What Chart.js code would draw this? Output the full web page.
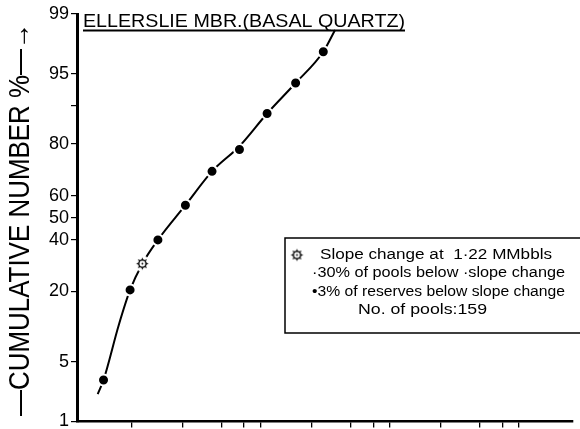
<!DOCTYPE html>
<html>
<head>
<meta charset="utf-8">
<script src="https://cdn.jsdelivr.net/npm/chart.js@4.4.0/dist/chart.umd.min.js"></script>
<style>
  body { margin: 0; background: #fff; }
  #wrap { width: 580px; height: 429px; }
</style>
</head>
<body>
<div id="wrap"><canvas id="chart"></canvas></div>
<script>
// pool size (MMbbls) against cumulative number of pools (%)
const poolSizes = [0.61, 0.98, 1.61, 2.63, 4.23, 6.9, 11.3, 18.8, 30.8];
const cumulativePct = [3.2, 20.5, 40, 55.7, 70.2, 78.2, 88.3, 93.8, 97.1];
const slopeChangeSize = [1.22];
const slopeChangePct = [30];
// hand-drawn fitted curve
const curveSizes = [0.55, 0.61, 0.8, 0.98, 1.22, 1.61, 2.63, 4.23, 6.9, 11.3, 18.8, 30.8, 38];
const curvePct = [2.2, 3.2, 11, 20.5, 30, 40, 55.7, 70.2, 79.3, 88.3, 93.8, 97.1, 98.4];
const yTicks = [1, 5, 20, 40, 50, 60, 80, 90, 95, 99];
const yTickLabels = ['1', '5', '20', '40', '50', '60', '80', '', '95', '99'];
const xTicks = [1, 2.5, 5, 7.5, 10, 25, 50, 75, 100, 250, 500, 750, 1000];
const chartTitle = 'ELLERSLIE MBR.(BASAL QUARTZ)';
const yTitle = '\u2014CUMULATIVE NUMBER %\u2014\u2192';
const noteLines = [
  'Slope change at  1\u00b722 MMbbls',
  '\u00b730% of pools below \u00b7slope change',
  '\u20223% of reserves below slope change',
  'No. of pools:159'
];

// inverse normal cdf (Acklam), input in percent
function probit(pct) {
  const p = pct / 100;
  const a = [-39.69683028665376, 220.9460984245205, -275.9285104469687, 138.3577518672690, -30.66479806614716, 2.506628277459239];
  const b = [-54.47609879822406, 161.5858368580409, -155.6989798598866, 66.80131188771972, -13.28068155288572];
  const c = [-0.007784894002430293, -0.3223964580411365, -2.400758277161838, -2.549732539343734, 4.374664141464968, 2.938163982698783];
  const d = [0.007784695709041462, 0.3224671290700398, 2.445134137142996, 3.754408661907416];
  const lo = 0.02425;
  let q, r;
  if (p < lo) {
    q = Math.sqrt(-2 * Math.log(p));
    return (((((c[0]*q+c[1])*q+c[2])*q+c[3])*q+c[4])*q+c[5]) / ((((d[0]*q+d[1])*q+d[2])*q+d[3])*q+1);
  }
  if (p > 1 - lo) {
    q = Math.sqrt(-2 * Math.log(1 - p));
    return -(((((c[0]*q+c[1])*q+c[2])*q+c[3])*q+c[4])*q+c[5]) / ((((d[0]*q+d[1])*q+d[2])*q+d[3])*q+1);
  }
  q = p - 0.5; r = q * q;
  return (((((a[0]*r+a[1])*r+a[2])*r+a[3])*r+a[4])*r+a[5])*q / (((((b[0]*r+b[1])*r+b[2])*r+b[3])*r+b[4])*r+1);
}

function normCdf(z) {
  const t = 1 / (1 + 0.2316419 * Math.abs(z));
  const y = 0.3989423 * Math.exp(-z * z / 2) * t * (0.3193815 + t * (-0.3565638 + t * (1.781478 + t * (-1.821256 + t * 1.330274))));
  return z > 0 ? 1 - y : y;
}

// probability paper axis
class ProbabilityScale extends Chart.LinearScale {
  determineDataLimits() {
    this.min = this.options.min;
    this.max = this.options.max;
  }
  buildTicks() {
    return yTicks.map(v => ({ value: v }));
  }
  configure() {
    super.configure();
    this._zStart = probit(this.min);
    this._zRange = probit(this.max) - this._zStart;
  }
  getPixelForValue(v) {
    return this.getPixelForDecimal((probit(v) - this._zStart) / this._zRange);
  }
  getValueForPixel(px) {
    return 100 * normCdf(this._zStart + this.getDecimalForPixel(px) * this._zRange);
  }
}
ProbabilityScale.id = 'probability';
ProbabilityScale.defaults = Chart.LinearScale.defaults;
Chart.register(ProbabilityScale);

function makeStar() {
  const c = document.createElement('canvas');
  c.width = 17; c.height = 17;
  const g = c.getContext('2d');
  const cx = 8.5, cy = 8.5;
  g.fillStyle = '#fff';
  g.beginPath(); g.arc(cx, cy, 8, 0, Math.PI * 2); g.fill();
  g.fillStyle = '#000';
  for (let i = 0; i < 8; i++) {
    const a = i * Math.PI / 4;
    g.beginPath();
    g.moveTo(cx + Math.cos(a - 0.32) * 3.6, cy + Math.sin(a - 0.32) * 3.6);
    g.lineTo(cx + Math.cos(a) * 6.3, cy + Math.sin(a) * 6.3);
    g.lineTo(cx + Math.cos(a + 0.32) * 3.6, cy + Math.sin(a + 0.32) * 3.6);
    g.closePath();
    g.fill();
  }
  g.beginPath(); g.arc(cx, cy, 3.6, 0, Math.PI * 2);
  g.fillStyle = '#fff'; g.fill();
  g.lineWidth = 1.3; g.strokeStyle = '#000'; g.stroke();
  g.beginPath(); g.arc(cx, cy, 0.9, 0, Math.PI * 2);
  g.fillStyle = '#000'; g.fill();
  return c;
}
const starIcon = makeStar();

function fitText(ctx, text, x, y, width, font) {
  ctx.save();
  ctx.font = font;
  const w = ctx.measureText(text).width;
  ctx.translate(x, y);
  ctx.scale(width / w, 1);
  ctx.fillText(text, 0, 0);
  ctx.restore();
}

const notesPlugin = {
  id: 'notes',
  afterDraw(chart) {
    const ctx = chart.ctx;
    ctx.save();
    ctx.fillStyle = '#000';
    ctx.strokeStyle = '#000';
    ctx.textAlign = 'left';

    // title with underline
    ctx.textBaseline = 'alphabetic';
    fitText(ctx, chartTitle, 83, 27, 322, '19px "Liberation Sans"');
    ctx.lineWidth = 2;
    ctx.beginPath(); ctx.moveTo(83, 30.5); ctx.lineTo(405, 30.5); ctx.stroke();

    // vertical axis title
    ctx.save();
    ctx.translate(21, 416);
    ctx.rotate(-Math.PI / 2);
    ctx.textBaseline = 'middle';
    fitText(ctx, yTitle, 0, 0, 393, '29px "Liberation Sans"');
    ctx.restore();

    // note box
    ctx.lineWidth = 1.5;
    ctx.beginPath();
    ctx.moveTo(582, 238); ctx.lineTo(285, 238); ctx.lineTo(285, 333); ctx.lineTo(582, 333);
    ctx.stroke();
    ctx.drawImage(starIcon, 297 - 8.5, 255 - 8.5);
    ctx.textBaseline = 'middle';
    const f = '14px "Liberation Sans"';
    fitText(ctx, noteLines[0], 320, 255, 232, f);
    fitText(ctx, noteLines[1], 312, 273, 253, f);
    fitText(ctx, noteLines[2], 312, 292, 253, f);
    fitText(ctx, noteLines[3], 358, 310, 129, f);
    ctx.restore();
  }
};

const ctx = document.getElementById('chart').getContext('2d');
new Chart(ctx, {
  type: 'scatter',
  data: {
    datasets: [
      {
        data: poolSizes.map((x, i) => ({ x: x, y: cumulativePct[i] })),
        pointRadius: 5.5,
        pointBackgroundColor: '#000',
        pointBorderColor: '#fff',
        pointBorderWidth: 2,
        order: 0
      },
      {
        data: slopeChangeSize.map((x, i) => ({ x: x, y: slopeChangePct[i] })),
        pointStyle: starIcon,
        order: 0
      },
      {
        data: curveSizes.map((x, i) => ({ x: x, y: curvePct[i] })),
        showLine: true,
        borderColor: '#000',
        borderWidth: 2,
        cubicInterpolationMode: 'monotone',
        pointRadius: 0,
        order: 1
      }
    ]
  },
  options: {
    responsive: true,
    maintainAspectRatio: false,
    animation: false,
    events: [],
    layout: { padding: { top: 14, right: 0, left: 0, bottom: 0 } },
    plugins: {
      legend: { display: false },
      tooltip: { enabled: false },
      title: { display: false }
    },
    scales: {
      x: {
        type: 'logarithmic',
        min: 0.38,
        max: 2630,
        bounds: 'data',
        afterBuildTicks: (scale) => {
          scale.ticks = xTicks.map(v => ({ value: v }));
        },
        afterFit: (scale) => {
          scale.height = 6;
        },
        ticks: { display: false },
        grid: {
          drawOnChartArea: false,
          tickLength: 6,
          color: '#000',
          lineWidth: 1.3
        },
        border: { color: '#000', width: 2.5 }
      },
      y: {
        type: 'probability',
        min: 1,
        max: 99,
        afterFit: (scale) => {
          scale.width = 77;
          scale.paddingTop = 0;
          scale.paddingBottom = 0;
        },
        ticks: {
          color: '#000',
          padding: 2,
          font: { family: '"Liberation Sans"', size: 18 },
          callback: (v, i) => yTickLabels[i]
        },
        grid: {
          drawOnChartArea: false,
          tickLength: 6,
          color: '#000',
          lineWidth: 1.2
        },
        border: { color: '#000', width: 3 }
      }
    }
  },
  plugins: [notesPlugin]
});
</script>
</body>
</html>
